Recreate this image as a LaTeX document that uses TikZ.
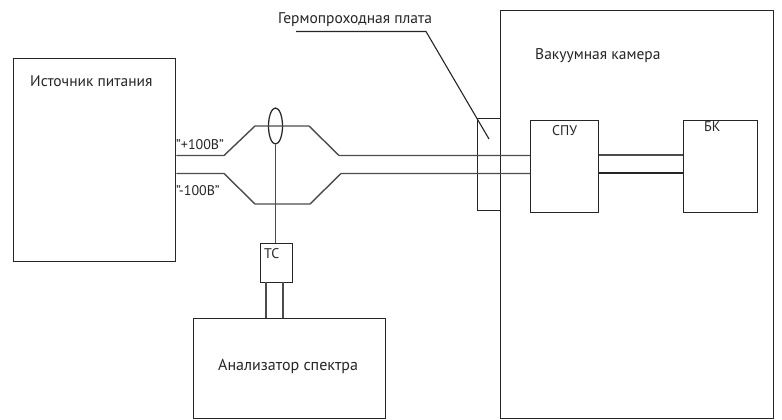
\documentclass[tikz,border=0pt]{standalone}
\usepackage{fontspec}
\usetikzlibrary{shapes.geometric}
\setmainfont{PT Sans}
\tikzset{
  blk/.style={draw=black!85,line width=1.25pt,minimum width=#1,inner sep=0pt,anchor=north west},
  wire/.style={draw=black!70,line width=1.4pt},
  lbl/.style={font=\fontsize{15.5}{17}\selectfont,inner sep=0pt,text=black!85,anchor=west},
  sml/.style={lbl,font=\fontsize{14}{16}\selectfont},
}
\begin{document}
\begin{tikzpicture}[x=1pt,y=-1pt]
\useasboundingbox (0,0) rectangle (782,420);
\fill[white] (0,0) rectangle (782,420);
% boxes
\node[blk=162pt,minimum height=203pt] (src) at (13,58) {};
\node[blk=273pt,minimum height=408pt] (cham) at (500,10) {};
\node[blk=23pt,minimum height=92pt] (plate) at (477,118) {};
\node[blk=68pt,minimum height=92pt] (spu) at (530,119.5) {};
\node[blk=74pt,minimum height=92pt] (bk) at (683,119.5) {};
\node[blk=32pt,minimum height=39pt] (ts) at (260,243) {};
\node[blk=192pt,minimum height=100pt] (an) at (193,318) {};
\node[draw=black!85,line width=1.25pt,ellipse,minimum width=14pt,minimum height=36pt,inner sep=0pt] (ring) at (275.5,126) {};
% wires
\coordinate (a1) at (src.north east |- 0,155.5);
\coordinate (a2) at (spu.north west |- 0,155.5);
\coordinate (b1) at (src.north east |- 0,173.5);
\coordinate (b2) at (spu.north west |- 0,173.5);
\draw[wire] (a1) -- (224,155.5) -- (255,126) -- (309,126) -- (339,155.5) -- (a2);
\draw[wire] (b1) -- (224,173.5) -- (255,204) -- (310,204) -- (341,173.5) -- (b2);
\draw[wire] (spu.east |- 0,155) -- (bk.west |- 0,155);
\draw[wire,black!85] (spu.east |- 0,173) -- (bk.west |- 0,173);
\draw[wire] (ring.south) -- (ts.north -| ring.south);
\draw[wire] (266,282) -- (266,318);
\draw[wire] (283,282) -- (283,318);
% leader
\coordinate (l1) at (296,31.5);
\coordinate (l2) at (426,31.5);
\coordinate (l3) at (489,139);
\draw[black!85,line width=1.1pt] (l1) -- (l2) -- (l3);
% labels
\node[lbl] (t1) at (278,20) {Гермопроходная плата};
\node[lbl] (t2) at (535,56) {Вакуумная камера};
\node[lbl] (t3) at (30,81) {Источник питания};
\node[sml] (t4) at (176,145) {"+100В"};
\node[sml] (t5) at (176,191) {"-100В"};
\node[sml] (t6) at (552,131) {СПУ};
\node[sml] (t7) at (704,127) {БК};
\node[sml] (t8) at (264,254) {ТС};
\node[lbl,font=\fontsize{16}{18}\selectfont] (t9) at (218,366) {Анализатор спектра};
\end{tikzpicture}
\end{document}
